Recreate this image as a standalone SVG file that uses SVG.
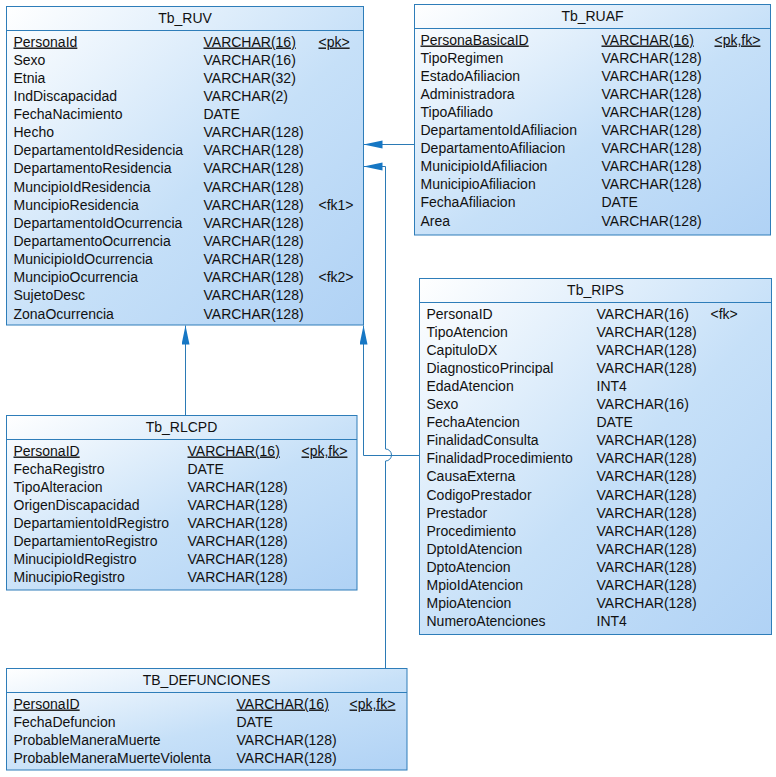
<svg xmlns="http://www.w3.org/2000/svg" width="776" height="777" viewBox="0 0 776 777">
<defs>
<linearGradient id="g" x1="0" y1="0" x2="1" y2="1">
<stop offset="0" stop-color="#ffffff"/>
<stop offset="0.55" stop-color="#c6e0f8"/>
<stop offset="1" stop-color="#b0d2f5"/>
</linearGradient>
<marker id="arr" markerUnits="userSpaceOnUse" markerWidth="20" markerHeight="10" refX="19" refY="4" orient="auto">
<path d="M0,0 L19,4 L0,8 z" fill="#1677c4"/>
</marker>
<style>
.box{fill:url(#g);stroke:#2e7db9;stroke-width:1}
.sep{stroke:#2e7db9;stroke-width:1}
text{font-family:"Liberation Sans",Arial,sans-serif;font-size:14px;fill:#111}
.t{text-anchor:middle}
.u{text-decoration:underline}
.c{fill:none;stroke:#2b7ab5;stroke-width:1}
</style>
</defs>
<rect width="776" height="777" fill="#ffffff"/>
<g id="connectors">
<path class="c" d="M414.5,144.5 H363.5" marker-end="url(#arr)"/>
<path class="c" d="M385.5,668 V461 A6,6 0 0 0 385.5,449 V166.5 H363.5" marker-end="url(#arr)"/>
<path class="c" d="M419,455.5 H363.5 V325.5" marker-end="url(#arr)"/>
<path class="c" d="M185.5,415.5 V325.5" marker-end="url(#arr)"/>
</g>
<g id="Tb_RUV" transform="translate(6.5,6.5)">
<rect class="box" x="0" y="0" width="357" height="318.5"/>
<line class="sep" x1="0" y1="24" x2="357" y2="24"/>
<text class="t" x="178.5" y="16">Tb_RUV</text>
<text class="u" x="7" y="40">PersonaId</text><text class="u" x="197" y="40">VARCHAR(16)</text><text class="u" x="312" y="40">&lt;pk&gt;</text>
<text x="7" y="58.1">Sexo</text><text x="197" y="58.1">VARCHAR(16)</text>
<text x="7" y="76.3">Etnia</text><text x="197" y="76.3">VARCHAR(32)</text>
<text x="7" y="94.4">IndDiscapacidad</text><text x="197" y="94.4">VARCHAR(2)</text>
<text x="7" y="112.5">FechaNacimiento</text><text x="197" y="112.5">DATE</text>
<text x="7" y="130.7">Hecho</text><text x="197" y="130.7">VARCHAR(128)</text>
<text x="7" y="148.8">DepartamentoIdResidencia</text><text x="197" y="148.8">VARCHAR(128)</text>
<text x="7" y="166.9">DepartamentoResidencia</text><text x="197" y="166.9">VARCHAR(128)</text>
<text x="7" y="185">MuncipioIdResidencia</text><text x="197" y="185">VARCHAR(128)</text>
<text x="7" y="203.2">MuncipioResidencia</text><text x="197" y="203.2">VARCHAR(128)</text><text x="312" y="203.2">&lt;fk1&gt;</text>
<text x="7" y="221.3">DepartamentoIdOcurrencia</text><text x="197" y="221.3">VARCHAR(128)</text>
<text x="7" y="239.4">DepartamentoOcurrencia</text><text x="197" y="239.4">VARCHAR(128)</text>
<text x="7" y="257.6">MunicipioIdOcurrencia</text><text x="197" y="257.6">VARCHAR(128)</text>
<text x="7" y="275.7">MuncipioOcurrencia</text><text x="197" y="275.7">VARCHAR(128)</text><text x="312" y="275.7">&lt;fk2&gt;</text>
<text x="7" y="293.8">SujetoDesc</text><text x="197" y="293.8">VARCHAR(128)</text>
<text x="7" y="312">ZonaOcurrencia</text><text x="197" y="312">VARCHAR(128)</text>
</g>
<g id="Tb_RUAF" transform="translate(414.5,4.5)">
<rect class="box" x="0" y="0" width="356" height="230.5"/>
<line class="sep" x1="0" y1="24" x2="356" y2="24"/>
<text class="t" x="178" y="16">Tb_RUAF</text>
<text class="u" x="6" y="40">PersonaBasicaID</text><text class="u" x="187" y="40">VARCHAR(16)</text><text class="u" x="300" y="40">&lt;pk,fk&gt;</text>
<text x="6" y="58.1">TipoRegimen</text><text x="187" y="58.1">VARCHAR(128)</text>
<text x="6" y="76.2">EstadoAfiliacion</text><text x="187" y="76.2">VARCHAR(128)</text>
<text x="6" y="94.3">Administradora</text><text x="187" y="94.3">VARCHAR(128)</text>
<text x="6" y="112.4">TipoAfiliado</text><text x="187" y="112.4">VARCHAR(128)</text>
<text x="6" y="130.5">DepartamentoIdAfiliacion</text><text x="187" y="130.5">VARCHAR(128)</text>
<text x="6" y="148.6">DepartamentoAfiliacion</text><text x="187" y="148.6">VARCHAR(128)</text>
<text x="6" y="166.7">MunicipioIdAfiliacion</text><text x="187" y="166.7">VARCHAR(128)</text>
<text x="6" y="184.8">MunicipioAfiliacion</text><text x="187" y="184.8">VARCHAR(128)</text>
<text x="6" y="202.9">FechaAfiliacion</text><text x="187" y="202.9">DATE</text>
<text x="6" y="221">Area</text><text x="187" y="221">VARCHAR(128)</text>
</g>
<g id="Tb_RIPS" transform="translate(419.5,278.5)">
<rect class="box" x="0" y="0" width="352" height="356"/>
<line class="sep" x1="0" y1="24" x2="352" y2="24"/>
<text class="t" x="176" y="16">Tb_RIPS</text>
<text x="7" y="40">PersonaID</text><text x="177" y="40">VARCHAR(16)</text><text x="291" y="40">&lt;fk&gt;</text>
<text x="7" y="58.1">TipoAtencion</text><text x="177" y="58.1">VARCHAR(128)</text>
<text x="7" y="76.2">CapituloDX</text><text x="177" y="76.2">VARCHAR(128)</text>
<text x="7" y="94.3">DiagnosticoPrincipal</text><text x="177" y="94.3">VARCHAR(128)</text>
<text x="7" y="112.4">EdadAtencion</text><text x="177" y="112.4">INT4</text>
<text x="7" y="130.5">Sexo</text><text x="177" y="130.5">VARCHAR(16)</text>
<text x="7" y="148.6">FechaAtencion</text><text x="177" y="148.6">DATE</text>
<text x="7" y="166.7">FinalidadConsulta</text><text x="177" y="166.7">VARCHAR(128)</text>
<text x="7" y="184.8">FinalidadProcedimiento</text><text x="177" y="184.8">VARCHAR(128)</text>
<text x="7" y="202.9">CausaExterna</text><text x="177" y="202.9">VARCHAR(128)</text>
<text x="7" y="221">CodigoPrestador</text><text x="177" y="221">VARCHAR(128)</text>
<text x="7" y="239.1">Prestador</text><text x="177" y="239.1">VARCHAR(128)</text>
<text x="7" y="257.2">Procedimiento</text><text x="177" y="257.2">VARCHAR(128)</text>
<text x="7" y="275.3">DptoIdAtencion</text><text x="177" y="275.3">VARCHAR(128)</text>
<text x="7" y="293.4">DptoAtencion</text><text x="177" y="293.4">VARCHAR(128)</text>
<text x="7" y="311.5">MpioIdAtencion</text><text x="177" y="311.5">VARCHAR(128)</text>
<text x="7" y="329.6">MpioAtencion</text><text x="177" y="329.6">VARCHAR(128)</text>
<text x="7" y="347.7">NumeroAtenciones</text><text x="177" y="347.7">INT4</text>
</g>
<g id="Tb_RLCPD" transform="translate(6.5,415.5)">
<rect class="box" x="0" y="0" width="350.5" height="174.5"/>
<line class="sep" x1="0" y1="24" x2="350.5" y2="24"/>
<text class="t" x="175" y="16">Tb_RLCPD</text>
<text class="u" x="7" y="40">PersonaID</text><text class="u" x="181" y="40">VARCHAR(16)</text><text class="u" x="295" y="40">&lt;pk,fk&gt;</text>
<text x="7" y="58.1">FechaRegistro</text><text x="181" y="58.1">DATE</text>
<text x="7" y="76.2">TipoAlteracion</text><text x="181" y="76.2">VARCHAR(128)</text>
<text x="7" y="94.3">OrigenDiscapacidad</text><text x="181" y="94.3">VARCHAR(128)</text>
<text x="7" y="112.4">DepartamientoIdRegistro</text><text x="181" y="112.4">VARCHAR(128)</text>
<text x="7" y="130.5">DepartamientoRegistro</text><text x="181" y="130.5">VARCHAR(128)</text>
<text x="7" y="148.6">MinucipioIdRegistro</text><text x="181" y="148.6">VARCHAR(128)</text>
<text x="7" y="166.7">MinucipioRegistro</text><text x="181" y="166.7">VARCHAR(128)</text>
</g>
<g id="TB_DEFUNCIONES" transform="translate(6.5,668.5)">
<rect class="box" x="0" y="0" width="400.5" height="101.5"/>
<line class="sep" x1="0" y1="24" x2="400.5" y2="24"/>
<text class="t" x="200" y="16">TB_DEFUNCIONES</text>
<text class="u" x="7" y="40">PersonaID</text><text class="u" x="230" y="40">VARCHAR(16)</text><text class="u" x="343" y="40">&lt;pk,fk&gt;</text>
<text x="7" y="58.1">FechaDefuncion</text><text x="230" y="58.1">DATE</text>
<text x="7" y="76.2">ProbableManeraMuerte</text><text x="230" y="76.2">VARCHAR(128)</text>
<text x="7" y="94.3">ProbableManeraMuerteViolenta</text><text x="230" y="94.3">VARCHAR(128)</text>
</g>
</svg>
